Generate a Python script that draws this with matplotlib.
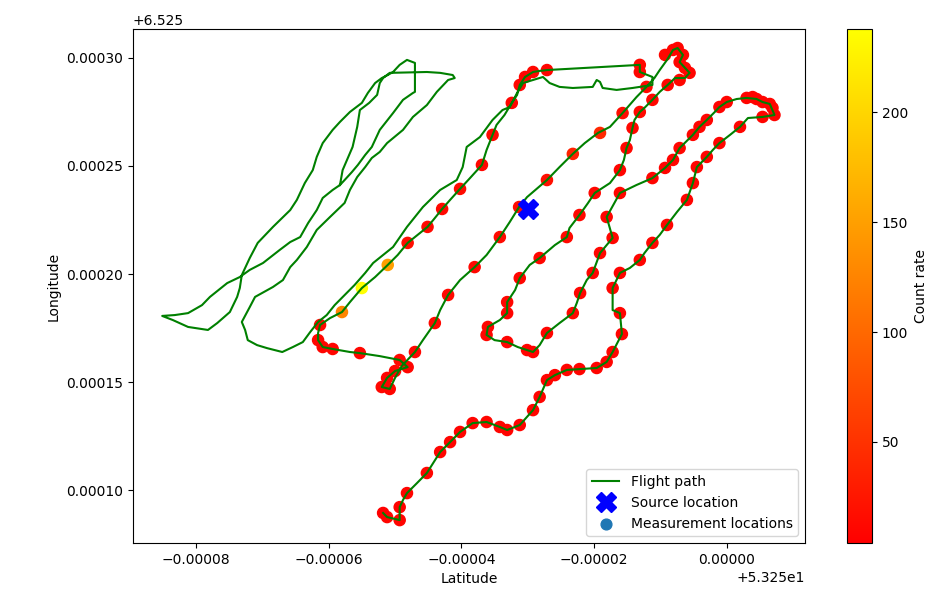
import numpy as np
import matplotlib
matplotlib.use("Agg")
import matplotlib.pyplot as plt

# Reference origin of the coordinates (degrees); offsets below are in micro-degrees
LAT0 = 53.25
LON0 = 6.525

# Flight path, offsets from the origin in 1e-6 degrees
path_dlat = [
    -58.3, -57.6, -56.5, -55.6, -54.5, -53.5, -52.3, -50.3, -48.8, -47.3, -47.0, -47.0, -48.2, -49.3, -50.3, -51.1,
    -52.0, -53.0, -54.1, -55.0, -56.8, -58.3, -59.4, -60.9, -61.8, -62.4, -63.6, -64.8, -65.8, -68.4, -70.7, -71.9,
    -73.1, -73.4, -73.8, -74.9, -76.8, -78.2, -81.2, -83.5, -85.1,
    -83.2, -81.2, -79.1, -77.9, -75.3, -73.4, -71.9, -69.9, -67.4, -65.8, -64.3, -63.1, -61.8, -60.9, -59.4, -58.3,
    -57.9, -56.8, -56.4, -55.7, -55.3, -53.9, -52.7, -52.3, -51.8, -50.8,
    -45.2, -43.2, -41.3, -41.0, -42.0, -43.7, -45.2, -47.3, -48.8, -51.2,
    -52.3, -53.5, -54.5, -55.7, -56.8, -57.6, -59.8, -61.8, -63.3, -64.8, -65.8, -66.9, -68.4, -71.1, -71.9, -73.1,
    -72.6, -72.2, -70.8, -69.3, -67.0, -65.4, -63.9, -62.8, -61.6, -60.3, -59.1, -57.3, -56.1, -54.5, -53.3, -50.3,
    -48.2, -45.8, -43.2, -40.7, -39.8, -39.2, -37.2, -35.3, -33.8, -32.7, -31.6, -30.7, -29.2, -27.7, -26.7, -25.2,
    -23.2, -20.2, -19.6, -19.1, -18.7, -16.6, -14.2, -11.2, -11.2, -13.1, -13.1,
    -27.1, -28.2, -29.2, -30.4, -31.2, -31.6, -32.4, -33.5, -34.7, -35.3, -36.2, -36.9, -38.7, -40.2, -41.7, -42.9,
    -44.0, -45.1, -46.6, -48.1, -49.6, -51.1, -53.0, -55.0, -56.8, -58.0, -59.8, -61.3, -61.6, -61.6, -60.9, -59.4,
    -56.8, -55.3, -52.3, -49.3, -48.1, -50.0, -51.2, -52.0, -50.8, -50.0, -49.0, -47.0, -45.8, -44.0, -43.2, -42.0,
    -40.2, -38.0, -36.2, -34.2, -32.7, -31.3, -30.1, -27.1, -25.2, -23.2, -21.4, -19.4, -17.6, -15.7, -13.6, -12.1,
    -10.9, -10.1, -9.0, -8.1, -7.4, -6.6, -7.1, -6.3, -5.6, -6.3, -7.8, -8.9, -10.1, -11.2, -12.4, -13.1,
    -13.9, -14.2, -14.6, -15.1, -15.5, -16.1, -17.6, -19.9, -20.9, -22.2, -23.7, -24.1, -25.9, -28.2, -29.7, -31.2,
    -31.9, -33.1, -33.1, -34.2, -36.0, -36.2, -35.0, -33.1, -31.5, -30.1, -29.2, -28.2, -27.1, -25.2, -23.2, -22.6,
    -22.1, -21.1, -20.2, -19.1, -17.2, -18.1, -16.1, -13.6, -11.2, -9.3, -8.1, -7.1, -5.1, -4.1, -3.0, -1.8,
    -1.1, 0.0, 1.5, 3.0, 4.5, 5.4, 6.5, 7.2, 6.2, 5.4, 3.2, 2.0, 0.5, -1.1, -2.1, -3.0,
    -4.5, -5.1, -6.0, -7.5, -9.0, -10.1, -11.2, -12.4, -13.1, -14.6, -16.1, -17.2, -17.2, -16.1, -15.8, -17.2,
    -18.1, -19.6, -22.2, -24.1, -25.9, -27.1, -28.2, -29.2, -31.2, -33.1, -34.2, -36.2, -38.3, -40.2, -41.7, -43.2,
    -45.2, -46.7, -48.2, -48.8, -49.3, -49.3, -51.2, -51.8,
]
path_dlon = [
    241.2, 243.5, 247.2, 250.5, 255.1, 258.8, 266.7, 274.5, 280.6, 283.8, 284.3, 297.7, 299.1, 296.8, 293.5, 292.1,
    290.7, 288.4, 283.8, 279.2, 275.0, 270.4, 266.7, 260.6, 254.2, 248.1, 242.1, 234.3, 229.6, 221.8, 214.4, 207.4,
    199.5, 193.5, 189.4, 182.4, 177.3, 174.1, 175.5, 178.7, 180.6,
    181.0, 181.9, 185.6, 189.4, 195.8, 198.6, 201.9, 205.1, 211.1, 214.8, 217.1, 223.6, 229.6, 235.2, 238.9, 241.2,
    248.1, 256.0, 258.8, 268.1, 275.9, 279.2, 282.9, 288.4, 290.7, 293.1,
    293.5, 293.1, 292.1, 290.7, 289.8, 284.3, 278.2, 272.7, 266.7, 260.6,
    256.5, 253.7, 249.5, 244.9, 238.9, 232.9, 226.4, 220.4, 212.5, 206.5, 203.2, 197.2, 194.0, 189.4, 184.7, 177.8,
    174.1, 169.4, 167.1, 165.7, 163.9, 166.2, 168.5, 173.1, 177.8, 181.0, 185.6, 191.2, 194.9, 200.5, 205.1, 212.5,
    221.8, 231.0, 238.9, 243.5, 249.5, 258.8, 263.4, 271.3, 275.9, 277.3, 283.8, 288.4, 289.8, 291.2, 288.4, 286.6,
    286.1, 286.6, 289.8, 288.9, 286.1, 285.2, 286.1, 287.5, 291.2, 293.5, 296.8,
    294.4, 294.0, 293.5, 291.2, 287.5, 282.9, 279.2, 273.6, 269.0, 264.4, 257.4, 250.5, 244.4, 239.4, 234.3, 230.1,
    225.9, 221.8, 218.1, 214.4, 208.8, 204.2, 198.6, 193.5, 187.0, 182.4, 179.6, 176.4, 172.7, 169.4, 166.2, 165.3,
    163.9, 163.4, 162.0, 160.2, 156.9, 155.1, 151.9, 147.7, 146.8, 151.9, 157.4, 163.9, 169.4, 177.3, 183.3, 190.3,
    197.2, 203.2, 208.8, 217.1, 224.1, 231.0, 235.6, 243.5, 249.5, 255.6, 260.6, 265.3, 268.1, 274.5, 281.9, 286.6,
    290.7, 294.4, 299.1, 303.7, 304.6, 301.4, 298.1, 295.4, 293.1, 290.7, 290.7, 287.5, 284.3, 280.6, 276.9, 275.0,
    271.3, 267.6, 262.0, 258.3, 252.8, 248.1, 242.1, 237.5, 232.9, 227.3, 221.3, 217.1, 213.4, 207.4, 204.2, 198.1,
    192.6, 187.0, 181.9, 178.7, 175.5, 171.8, 169.4, 168.5, 166.2, 164.8, 163.9, 167.1, 172.7, 177.3, 181.9, 186.6,
    191.2, 197.2, 200.5, 209.7, 216.7, 226.4, 237.5, 241.2, 244.4, 249.1, 252.8, 258.3, 264.4, 268.1, 271.3, 275.0,
    277.3, 279.6, 281.0, 281.5, 281.0, 279.6, 278.7, 273.6, 273.1, 272.7, 272.2, 268.1, 264.4, 260.6, 257.4, 254.2,
    249.5, 242.1, 234.3, 228.7, 222.7, 218.1, 214.4, 209.7, 206.5, 202.8, 200.5, 193.5, 183.3, 181.9, 172.2, 163.9,
    159.3, 156.5, 156.0, 155.6, 153.2, 150.9, 143.1, 137.0, 130.1, 127.8, 129.2, 131.5, 131.0, 126.9, 122.2, 117.6,
    107.9, 103.2, 98.6, 95.4, 92.1, 86.1, 87.5, 89.4,
]

# Measurement locations (offsets in 1e-6 degrees) and count rates
meas_dlat = [
    -13.1, -13.1, -27.1, -29.2, -30.4, -31.2, -32.4, -35.3, -36.9, -40.2, -42.9, -45.1, -48.1, -51.1, -55.0, -58.0,
    -61.3, -61.6, -60.9, -59.4, -55.3, -49.3, -48.1, -50.0, -51.2, -52.0, -50.8, -47.0, -44.0, -42.0, -38.0, -34.2,
    -31.3, -27.1, -23.2, -19.1, -15.7, -12.1, -9.3, -8.1, -7.4, -6.6, -7.1, -6.3, -5.6, -7.1, -8.9, -11.2,
    -13.1, -14.2, -15.1, -16.1, -19.9, -22.2, -24.1, -28.2, -31.2, -33.1, -33.1, -36.0, -36.2, -33.1, -30.1, -29.2,
    -27.1, -23.2, -22.1, -20.2, -19.1, -17.2, -18.1, -16.1, -11.2, -8.1, -7.1, -5.1, -3.0, -1.1, 0.0, 3.0,
    4.5, 5.4, 6.5, 7.2, 5.4, 2.0, -1.1, -3.0, -4.5, -5.1, -6.0, -9.0, -11.2, -13.1, -16.1, -17.2,
    -16.1, -15.8, -17.2, -18.1, -19.6, -22.2, -24.1, -27.1, -28.2, -29.2, -31.2, -33.1, -34.2, -36.2, -38.3, -40.2,
    -43.2, -45.2, -48.2, -49.3, -49.3, -51.2, -51.8,
    3.9, 6.9, -4.1, -9.3, -25.9, -41.7,
]
meas_dlon = [
    296.8, 293.5, 294.4, 293.5, 291.2, 287.5, 279.2, 264.4, 250.5, 239.4, 230.1, 221.8, 214.4, 204.2, 193.5, 182.4,
    176.4, 169.4, 166.2, 165.3, 163.4, 160.2, 156.9, 155.1, 151.9, 147.7, 146.8, 163.9, 177.3, 190.3, 203.2, 217.1,
    231.0, 243.5, 255.6, 265.3, 274.5, 286.6, 301.4, 303.7, 304.6, 301.4, 298.1, 295.4, 293.1, 289.8, 287.5, 280.6,
    275.0, 267.6, 258.3, 248.1, 237.5, 227.3, 217.1, 207.4, 198.1, 187.0, 181.9, 175.5, 171.8, 168.5, 164.8, 163.9,
    172.7, 181.9, 191.2, 200.5, 209.7, 216.7, 226.4, 237.5, 244.4, 252.8, 258.3, 264.4, 271.3, 277.3, 279.6, 281.5,
    281.0, 279.6, 278.7, 273.6, 272.7, 268.1, 260.6, 254.2, 249.5, 242.1, 234.3, 222.7, 214.4, 206.5, 200.5, 193.5,
    181.9, 172.2, 163.9, 159.3, 156.5, 156.0, 155.6, 150.9, 143.1, 137.0, 130.1, 127.8, 129.2, 131.5, 131.0, 126.9,
    117.6, 107.9, 98.6, 92.1, 86.1, 87.5, 89.4,
    281.9, 276.9, 268.1, 249.1, 153.2, 122.2,
]
count_rate = [
    12, 10, 9, 11, 8, 10, 9, 12, 10, 14, 12, 13, 16, 150, 238, 125,
    12, 10, 8, 9, 10, 12, 9, 10, 8, 11, 9, 10, 12, 13, 11, 14,
    15, 18, 35, 40, 15, 12, 10, 9, 8, 10, 9, 11, 8, 10, 9, 10,
    12, 11, 10, 9, 10, 11, 12, 10, 9, 10, 8, 9, 10, 8, 9, 7,
    8, 10, 9, 8, 10, 9, 8, 10, 9, 8, 10, 9, 8, 7, 9, 8,
    7, 9, 8, 7, 8, 9, 8, 7, 9, 8, 7, 8, 9, 8, 7, 9,
    8, 7, 9, 8, 7, 8, 9, 8, 7, 9, 8, 7, 8, 9, 8, 7,
    8, 9, 8, 7, 8, 9, 4,
    8, 7, 9, 8, 7, 8,
]

# Source position (offsets in 1e-6 degrees)
source_dlat = [-30.0]
source_dlon = [230.3]

# Axis limits (offsets in 1e-6 degrees)
xlim_d = (-89.5, 11.8)
ylim_d = (75.5, 313.4)

u = 1e-6
path_lat = LAT0 + np.array(path_dlat) * u
path_lon = LON0 + np.array(path_dlon) * u
meas_lat = LAT0 + np.array(meas_dlat) * u
meas_lon = LON0 + np.array(meas_dlon) * u
src_lat = LAT0 + np.array(source_dlat) * u
src_lon = LON0 + np.array(source_dlon) * u

fig = plt.figure(figsize=(9.52, 6.08), dpi=100)
W, H = 952, 608
ax = fig.add_axes([133 / W, (H - 543) / H, (805 - 133) / W, (543 - 29) / H])
cax = fig.add_axes([847 / W, (H - 543) / H, 25 / W, (543 - 29) / H])

sc = ax.scatter(meas_lat, meas_lon, c=count_rate, cmap="autumn", s=64, zorder=1)
line, = ax.plot(path_lat, path_lon, color="green", lw=1.5, zorder=2)
src, = ax.plot(src_lat, src_lon, "X", color="blue", markersize=15, linestyle="none", zorder=3)

ax.set_xlim(LAT0 + xlim_d[0] * u, LAT0 + xlim_d[1] * u)
ax.set_ylim(LON0 + ylim_d[0] * u, LON0 + ylim_d[1] * u)
ax.set_xlabel("Latitude")
ax.set_ylabel("Longitude")

meas_proxy = ax.scatter([], [], color="C0", s=60)
ax.legend([line, src, meas_proxy],
          ["Flight path", "Source location", "Measurement locations"],
          loc="lower right")

cb = fig.colorbar(sc, cax=cax)
cb.set_label("Count rate")

fig.savefig("out.png", dpi=100)
